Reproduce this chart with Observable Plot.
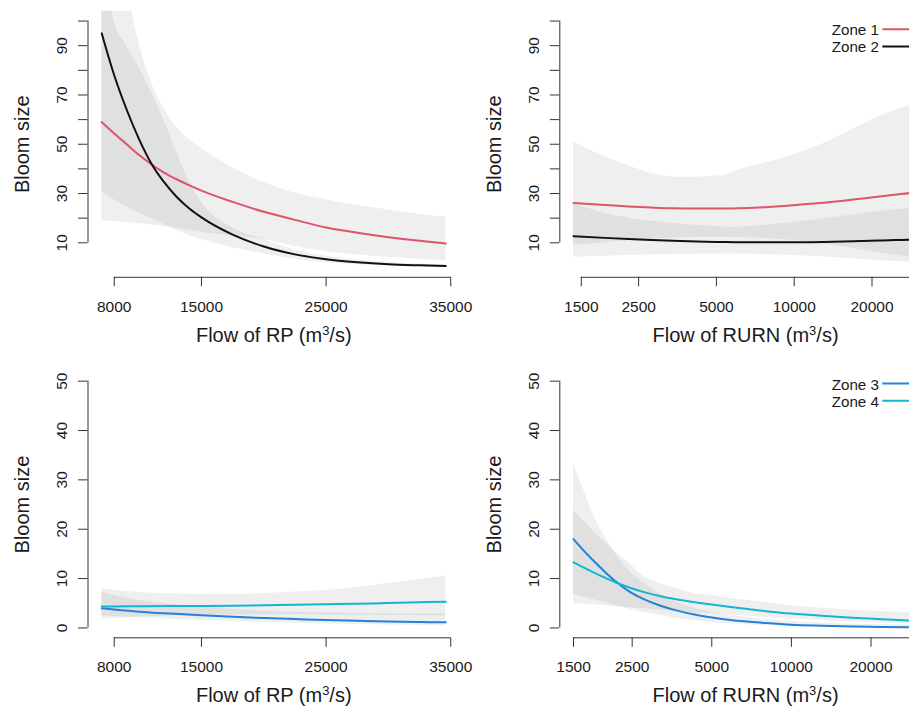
<!DOCTYPE html>
<html>
<head>
<meta charset="utf-8">
<script src="https://cdn.jsdelivr.net/npm/d3@7"></script>
<script src="https://cdn.jsdelivr.net/npm/@observablehq/plot@0.6"></script>
<style>
  html, body { margin: 0; padding: 0; background: #ffffff; }
  #chart { position: relative; width: 909px; height: 710px; overflow: hidden; background: #ffffff; }
  #chart > svg, #chart > figure { position: absolute; margin: 0; }
</style>
</head>
<body>
<div id="chart"></div>
<script>
// ---------------- Data ----------------
// Top-left: Flow of RP, zones 1 & 2
const rpFlowTop = [7000, 8000, 9000, 10000, 11000, 12000, 13000, 14000, 15000, 17500, 20000, 22500, 25000, 27500, 30000, 32500, 34600];
const zone1RP      = [59, 54.4, 50, 45.6, 41.8, 38.5, 35.8, 33.4, 31.2, 26.6, 22.6, 19.3, 16.2, 14.1, 12.3, 10.85, 9.7];
const zone1RPLow   = [19, 18.6, 18.2, 17.7, 17.2, 16.6, 15.9, 15.1, 14.3, 12.8, 11.3, 8.5, 6.5, 5.1, 4.1, 3.3, 2.8];
const zone1RPHigh  = [190, 150, 115, 91, 75, 64.5, 57, 52, 48.3, 40.5, 34.5, 30.2, 27.5, 25.2, 23.3, 21.6, 20.4];
const zone2RP      = [95, 78, 64, 52, 42, 34.6, 28.7, 24, 20.3, 13.3, 8.5, 5.3, 3.3, 2.1, 1.3, 0.85, 0.55];
const zone2RPLow   = [30.6, 27.5, 24.5, 22, 19.8, 17.5, 15, 13, 11.3, 8, 5.5, 3.3, 1.9, 1.1, 0.6, 0.35, 0.2];
const zone2RPHigh  = [140, 100, 90, 81, 71, 59.5, 47, 35, 26.5, 16, 11.4, 7.0, 4.6, 3.0, 2.0, 1.4, 1.1];

// Top-right: Flow of RURN, zones 1 & 2
const rurnFlowTop = [1400, 1850, 2400, 2800, 3400, 4200, 5400, 6000, 7000, 8500, 10600, 13000, 15500, 18100, 21000, 24400, 28000, 30000];
const zone1RURN     = [26.2, 25.3, 24.6, 24.3, 24.0, 23.9, 23.9, 24.0, 24.2, 24.7, 25.5, 26.3, 27.1, 27.9, 28.7, 29.5, 30.2, 30.6];
const zone1RURNLow  = [8.9, 10, 11, 11.5, 12, 12.3, 12.3, 12.2, 12, 11.5, 10.6, 9.5, 8.3, 7.2, 6.1, 5, 4.1, 3.8];
const zone1RURNHigh = [50.9, 44.8, 40.5, 38, 36.6, 36.6, 37.3, 39.4, 41.4, 43.5, 46.8, 50.3, 54.2, 57.8, 61, 63.7, 65.8, 66.3];
const zone2RURN     = [12.7, 12.0, 11.4, 11.1, 10.8, 10.5, 10.3, 10.25, 10.2, 10.2, 10.2, 10.3, 10.5, 10.7, 10.9, 11.1, 11.2, 11.3];
const zone2RURNLow  = [4.15, 4.5, 4.9, 5.1, 5.3, 5.4, 5.5, 5.5, 5.4, 5.1, 4.7, 4.2, 3.7, 3.2, 2.8, 2.4, 2.1, 1.9];
const zone2RURNHigh = [25.8, 21.8, 19.6, 18.7, 17.8, 17, 16.3, 16.3, 16.7, 17.5, 18.6, 19.8, 20.8, 21.8, 22.6, 23.3, 23.8, 24];

// Bottom-left: Flow of RP, zones 3 & 4
const rpFlowBottom = [7000, 8000, 10000, 12500, 15000, 17500, 20000, 22500, 25000, 27500, 30000, 32500, 34600];
const zone3RP      = [4.0, 3.75, 3.3, 2.9, 2.55, 2.25, 2.0, 1.8, 1.6, 1.45, 1.3, 1.2, 1.13];
const zone3RPLow   = [2.4, 2.3, 2.0, 1.75, 1.5, 1.3, 1.1, 0.95, 0.8, 0.7, 0.6, 0.5, 0.45];
const zone3RPHigh  = [7.2, 6.6, 5.6, 4.8, 4.2, 3.8, 3.4, 3.2, 3.0, 2.9, 2.85, 2.8, 2.8];
const zone4RP      = [4.35, 4.35, 4.4, 4.42, 4.45, 4.5, 4.6, 4.7, 4.8, 4.9, 5.05, 5.2, 5.3];
const zone4RPLow   = [1.7, 1.9, 2.2, 2.4, 2.55, 2.6, 2.65, 2.65, 2.6, 2.55, 2.5, 2.45, 2.4];
const zone4RPHigh  = [7.9, 7.6, 7.2, 6.9, 6.8, 6.8, 7.0, 7.3, 7.6, 8.2, 9.0, 9.8, 10.5];

// Bottom-right: Flow of RURN, zones 3 & 4
const rurnFlowBottom = [1500, 1650, 1775, 1950, 2180, 2450, 2750, 3200, 3700, 4300, 5000, 6000, 7600, 10000, 13000, 17000, 22000, 30000];
const zone3RURN     = [18.0, 15.5, 13.75, 11.6, 9.3, 7.3, 5.9, 4.5, 3.5, 2.7, 2.1, 1.55, 1.1, 0.65, 0.45, 0.3, 0.2, 0.12];
const zone3RURNLow  = [6.7, 6.2, 5.8, 5.2, 4.5, 3.8, 3.2, 2.5, 1.9, 1.5, 1.1, 0.8, 0.5, 0.3, 0.18, 0.1, 0.06, 0.03];
const zone3RURNHigh = [33.2, 27.5, 23.1, 19, 14.8, 11.5, 9.2, 6.8, 5.2, 4.0, 3.2, 2.5, 1.8, 1.3, 1.0, 0.8, 0.65, 0.5];
const zone4RURN     = [13.3, 12.16, 11.32, 10.29, 9.16, 8.14, 7.3, 6.4, 5.75, 5.2, 4.75, 4.2, 3.55, 2.9, 2.45, 2.08, 1.78, 1.45];
const zone4RURNLow  = [4.9, 4.8, 4.7, 4.5, 4.3, 4.1, 3.9, 3.6, 3.3, 3.1, 2.9, 2.6, 2.2, 1.8, 1.5, 1.2, 1.0, 0.8];
const zone4RURNHigh = [23.8, 21.5, 19.7, 17.5, 15.2, 13.0, 10.5, 9.0, 7.9, 7.0, 6.6, 5.9, 5.3, 4.5, 4.0, 3.6, 3.35, 3.1];

// Axis ticks and labels
const rpTicks = [8000, 15000, 25000, 35000];
const rpTickLabels = [8000, 15000, 25000, 35000];
const rurnTicks = [1500, 2500, 5000, 10000, 20000, 30000];
const rurnTickLabels = [1500, 2500, 5000, 10000, 20000];
const yTicksTop = [10, 20, 30, 40, 50, 60, 70, 80, 90, 100];
const yLabelsTop = [10, 30, 50, 70, 90];
const yTicksBottom = [0, 10, 20, 30, 40, 50];
const yLabelsBottom = [0, 10, 20, 30, 40, 50];

const yTitle = "Bloom size";
const xTitleRP = ["Flow of RP (m", "3", "/s)"];
const xTitleRURN = ["Flow of RURN (m", "3", "/s)"];
const legendTop = ["Zone 1", "Zone 2"];
const legendBottom = ["Zone 3", "Zone 4"];

// ---------------- Styles ----------------
const zoneColors = {"Zone 1": "#DF536B", "Zone 2": "#111111", "Zone 3": "#2382DA", "Zone 4": "#14B4D4"};
const axisColor = "#333333";
const textColor = "#1a1a1a";
const fontFamily = '"Liberation Sans", Arial, Helvetica, sans-serif';
const plotW = 371.5;

function legendMark(items, top) {
  return (index, scales, values, dims) => {
    const g = d3.create("svg:g").attr("font-size", 15.2).attr("font-family", fontFamily);
    const right = dims.width - dims.marginRight;
    items.forEach((name, i) => {
      const yb = dims.marginTop + top + i * 17.2;
      g.append("text").attr("x", right - 51.8).attr("y", yb)
        .attr("text-anchor", "end").attr("fill", textColor).text(name);
      g.append("line").attr("x1", right - 48.5).attr("x2", right - 8)
        .attr("y1", yb - 6).attr("y2", yb - 6)
        .attr("stroke", zoneColors[name]).attr("stroke-width", 2);
    });
    return g.node();
  };
}

function makePanel(p) {
  const width = p.marginLeft + plotW + 12;
  const height = p.marginTop + p.plotH + 78;
  const yMin = p.yDomain[0], xMin = p.xDomain[0];
  const rows = p.series.map(s => p.x.map((xv, i) => ({x: xv, y: s.y[i], lo: s.lo[i], hi: s.hi[i]})));
  const marks = [];
  rows.forEach(r => marks.push(Plot.areaY(r, {x: "x", y1: "lo", y2: "hi", fill: "#000", fillOpacity: 0.062, curve: p.bandCurve, clip: true})));
  rows.forEach((r, k) => marks.push(Plot.line(r, {x: "x", y: "y", stroke: zoneColors[p.series[k].name], strokeWidth: 2, curve: "monotone-x", clip: true})));
  // axis lines (R style: from first to last tick)
  marks.push(Plot.ruleY([yMin], {x1: p.xTicks[0], x2: p.xTicks[p.xTicks.length - 1], stroke: axisColor}));
  marks.push(Plot.ruleX([xMin], {y1: p.yTicks[0], y2: p.yTicks[p.yTicks.length - 1], stroke: axisColor}));
  // tick marks
  marks.push(Plot.ruleX(p.xTicks, {x: d => d, y1: yMin, y2: yMin, insetBottom: -9.5, stroke: axisColor}));
  marks.push(Plot.ruleY(p.yTicks, {y: d => d, x1: xMin, x2: xMin, insetLeft: -9.5, stroke: axisColor}));
  // tick labels
  marks.push(Plot.text(p.xLabels, {x: d => d, text: d => String(d), frameAnchor: "bottom", dy: 34.5, lineAnchor: "bottom", fontSize: 15.5, fill: textColor}));
  marks.push(Plot.text(p.yLabels, {y: d => d, text: d => String(d), frameAnchor: "left", dx: -21, rotate: -90, textAnchor: "middle", lineAnchor: "bottom", fontSize: 15.5, fill: textColor}));
  // axis titles
  marks.push(Plot.text([yTitle], {text: d => d, frameAnchor: "left", dx: -59.2, rotate: -90, textAnchor: "middle", lineAnchor: "bottom", fontSize: 20, fill: textColor}));
  marks.push(Plot.text([p.xTitle.join("")], {text: d => d, frameAnchor: "bottom", dy: 64.3, lineAnchor: "bottom", fontSize: 20, fill: textColor}));
  if (p.legend) marks.push(legendMark(p.legend, p.legendTop));

  const svg = Plot.plot({
    width, height,
    marginLeft: p.marginLeft, marginRight: 12, marginTop: p.marginTop, marginBottom: 78,
    style: {fontFamily, background: "transparent", overflow: "visible", color: textColor},
    x: {type: p.xType, domain: p.xDomain, axis: null},
    y: {type: "linear", domain: p.yDomain, axis: null},
    marks
  });
  // superscript for m^3
  const full = p.xTitle.join("");
  svg.querySelectorAll("text").forEach(t => {
    if (t.textContent === full && t.children.length === 0) {
      const ns = "http://www.w3.org/2000/svg";
      t.textContent = "";
      const a = document.createElementNS(ns, "tspan"); a.textContent = p.xTitle[0];
      const b = document.createElementNS(ns, "tspan"); b.textContent = p.xTitle[1];
      b.setAttribute("dy", "-7"); b.setAttribute("font-size", "13");
      const c = document.createElementNS(ns, "tspan"); c.textContent = p.xTitle[2];
      c.setAttribute("dy", "7");
      t.append(a, b, c);
    }
  });
  svg.style.left = p.left + "px";
  svg.style.top = p.top + "px";
  document.getElementById("chart").appendChild(svg);
}

makePanel({
  left: 0, top: 0, marginLeft: 87.5, marginTop: 10.7, plotH: 266.1,
  xType: "linear", xDomain: [5896, 35704], yDomain: [-4, 104],
  x: rpFlowTop, bandCurve: "monotone-x",
  series: [
    {name: "Zone 1", y: zone1RP, lo: zone1RPLow, hi: zone1RPHigh},
    {name: "Zone 2", y: zone2RP, lo: zone2RPLow, hi: zone2RPHigh}
  ],
  xTicks: rpTicks, xLabels: rpTickLabels, yTicks: yTicksTop, yLabels: yLabelsTop, xTitle: xTitleRP
});

makePanel({
  left: 472, top: 0, marginLeft: 87.3, marginTop: 10.7, plotH: 266.1,
  xType: "log", xDomain: [1238.6, 33920], yDomain: [-4, 104],
  x: rurnFlowTop, bandCurve: "linear",
  series: [
    {name: "Zone 1", y: zone1RURN, lo: zone1RURNLow, hi: zone1RURNHigh},
    {name: "Zone 2", y: zone2RURN, lo: zone2RURNLow, hi: zone2RURNHigh}
  ],
  xTicks: rurnTicks, xLabels: rurnTickLabels, yTicks: yTicksTop, yLabels: yLabelsTop, xTitle: xTitleRURN,
  legend: legendTop, legendTop: 24.6
});

makePanel({
  left: 0, top: 355, marginLeft: 87.5, marginTop: 15.8, plotH: 266.5,
  xType: "linear", xDomain: [5896, 35704], yDomain: [-2, 52],
  x: rpFlowBottom, bandCurve: "monotone-x",
  series: [
    {name: "Zone 3", y: zone3RP, lo: zone3RPLow, hi: zone3RPHigh},
    {name: "Zone 4", y: zone4RP, lo: zone4RPLow, hi: zone4RPHigh}
  ],
  xTicks: rpTicks, xLabels: rpTickLabels, yTicks: yTicksBottom, yLabels: yLabelsBottom, xTitle: xTitleRP
});

makePanel({
  left: 472, top: 355, marginLeft: 87.3, marginTop: 15.8, plotH: 266.5,
  xType: "log", xDomain: [1331, 33820], yDomain: [-2, 52],
  x: rurnFlowBottom, bandCurve: "monotone-x",
  series: [
    {name: "Zone 3", y: zone3RURN, lo: zone3RURNLow, hi: zone3RURNHigh},
    {name: "Zone 4", y: zone4RURN, lo: zone4RURNLow, hi: zone4RURNHigh}
  ],
  xTicks: rurnTicks, xLabels: rurnTickLabels, yTicks: yTicksBottom, yLabels: yLabelsBottom, xTitle: xTitleRURN,
  legend: legendBottom, legendTop: 18.8
});
</script>
</body>
</html>
